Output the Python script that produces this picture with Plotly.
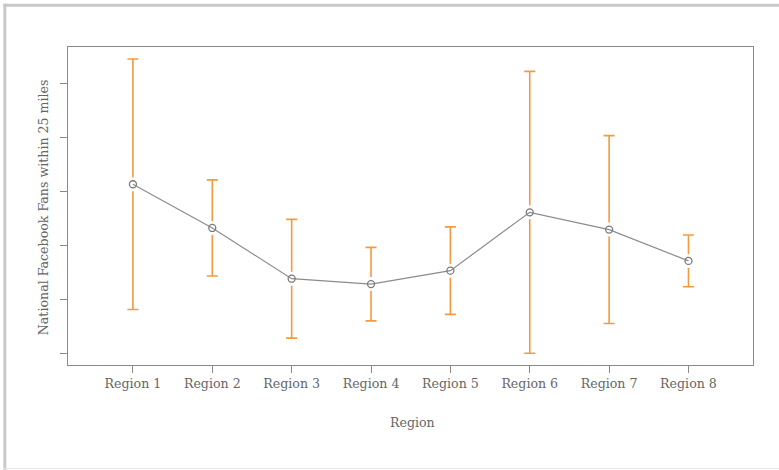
import plotly.graph_objects as go

# Mean fan counts per region with symmetric error margins
regions = ["Region 1", "Region 2", "Region 3", "Region 4",
           "Region 5", "Region 6", "Region 7", "Region 8"]
fans_mean = [313, 232, 138, 128, 153, 261, 229, 171]
fans_err = [232, 89, 110, 68, 81, 261, 174, 48]
y_ticks = [0, 100, 200, 300, 400, 500]

x_pos = list(range(1, len(regions) + 1))

W, H = 779, 470
L, T, R_, B = 67.7, 47.3, 779 - 753.3, 470 - 365
pw, ph = W - L - R_, H - T - B


def px(x):
    return (x - L) / pw


def py(y):
    return (H - B - y) / ph


FONT = "DejaVu Serif"
FS = 12.6
TXT = "#666666"
AX = "#8a8a8a"
ORANGE = "#f39a3e"

fig = go.Figure()

# error bars
fig.add_trace(go.Scatter(
    x=x_pos, y=fans_mean, mode="markers",
    marker=dict(size=1, color="rgba(0,0,0,0)"),
    error_y=dict(type="data", array=fans_err, symmetric=True,
                 color=ORANGE, thickness=1.6, width=5.5),
    hoverinfo="skip", showlegend=False,
))
# white halo opening a gap in the error bars around each point
fig.add_trace(go.Scatter(
    x=x_pos, y=fans_mean, mode="markers",
    marker=dict(size=14, color="white", line=dict(width=0)),
    hoverinfo="skip", showlegend=False,
))
# connecting line with open circles
fig.add_trace(go.Scatter(
    x=x_pos, y=fans_mean, mode="lines+markers",
    line=dict(color="#8c8c8c", width=1.2),
    marker=dict(symbol="circle-open", size=7, color="#7a7a7a",
                line=dict(width=1.3, color="#7a7a7a")),
    showlegend=False,
))

fig.update_layout(
    width=W, height=H, autosize=False,
    margin=dict(l=L, r=R_, t=T, b=B, pad=0),
    paper_bgcolor="white", plot_bgcolor="white",
    font=dict(family=FONT, size=FS, color=TXT),
    showlegend=False,
    xaxis=dict(
        range=[0.182, 8.813], tickmode="array", tickvals=x_pos,
        ticktext=regions, showgrid=False, zeroline=False,
        ticks="outside", ticklen=7, tickcolor=AX, tickwidth=1,
        showline=True, linecolor=AX, linewidth=1.3, mirror=True,
        tickfont=dict(family=FONT, size=FS, color=TXT),
    ),
    yaxis=dict(
        range=[-21.8, 567.2], tickmode="array", tickvals=y_ticks,
        showticklabels=False, showgrid=False, zeroline=False,
        ticks="outside", ticklen=7, tickcolor=AX, tickwidth=1,
        showline=True, linecolor=AX, linewidth=1.3, mirror=True,
    ),
    annotations=[
        dict(text="Region", x=px(413), y=py(422), xref="paper", yref="paper",
             showarrow=False, xanchor="center", yanchor="middle",
             font=dict(family=FONT, size=FS, color=TXT)),
        dict(text="National Facebook Fans within 25 miles", textangle=-90,
             x=px(44), y=py(207), xref="paper", yref="paper",
             showarrow=False, xanchor="center", yanchor="middle",
             font=dict(family=FONT, size=FS, color=TXT)),
    ],
    shapes=[
        dict(type="line", xref="paper", yref="paper",
             x0=px(3), x1=px(800), y0=py(5.5), y1=py(5.5),
             line=dict(color="#c9c9c9", width=3)),
        dict(type="line", xref="paper", yref="paper",
             x0=px(4.5), x1=px(4.5), y0=py(4), y1=py(470),
             line=dict(color="#c9c9c9", width=3)),
        dict(type="line", xref="paper", yref="paper",
             x0=px(3), x1=px(800), y0=py(468.5), y1=py(468.5),
             line=dict(color="#e4e4e4", width=1)),
    ],
)

fig.write_html("out.html")
